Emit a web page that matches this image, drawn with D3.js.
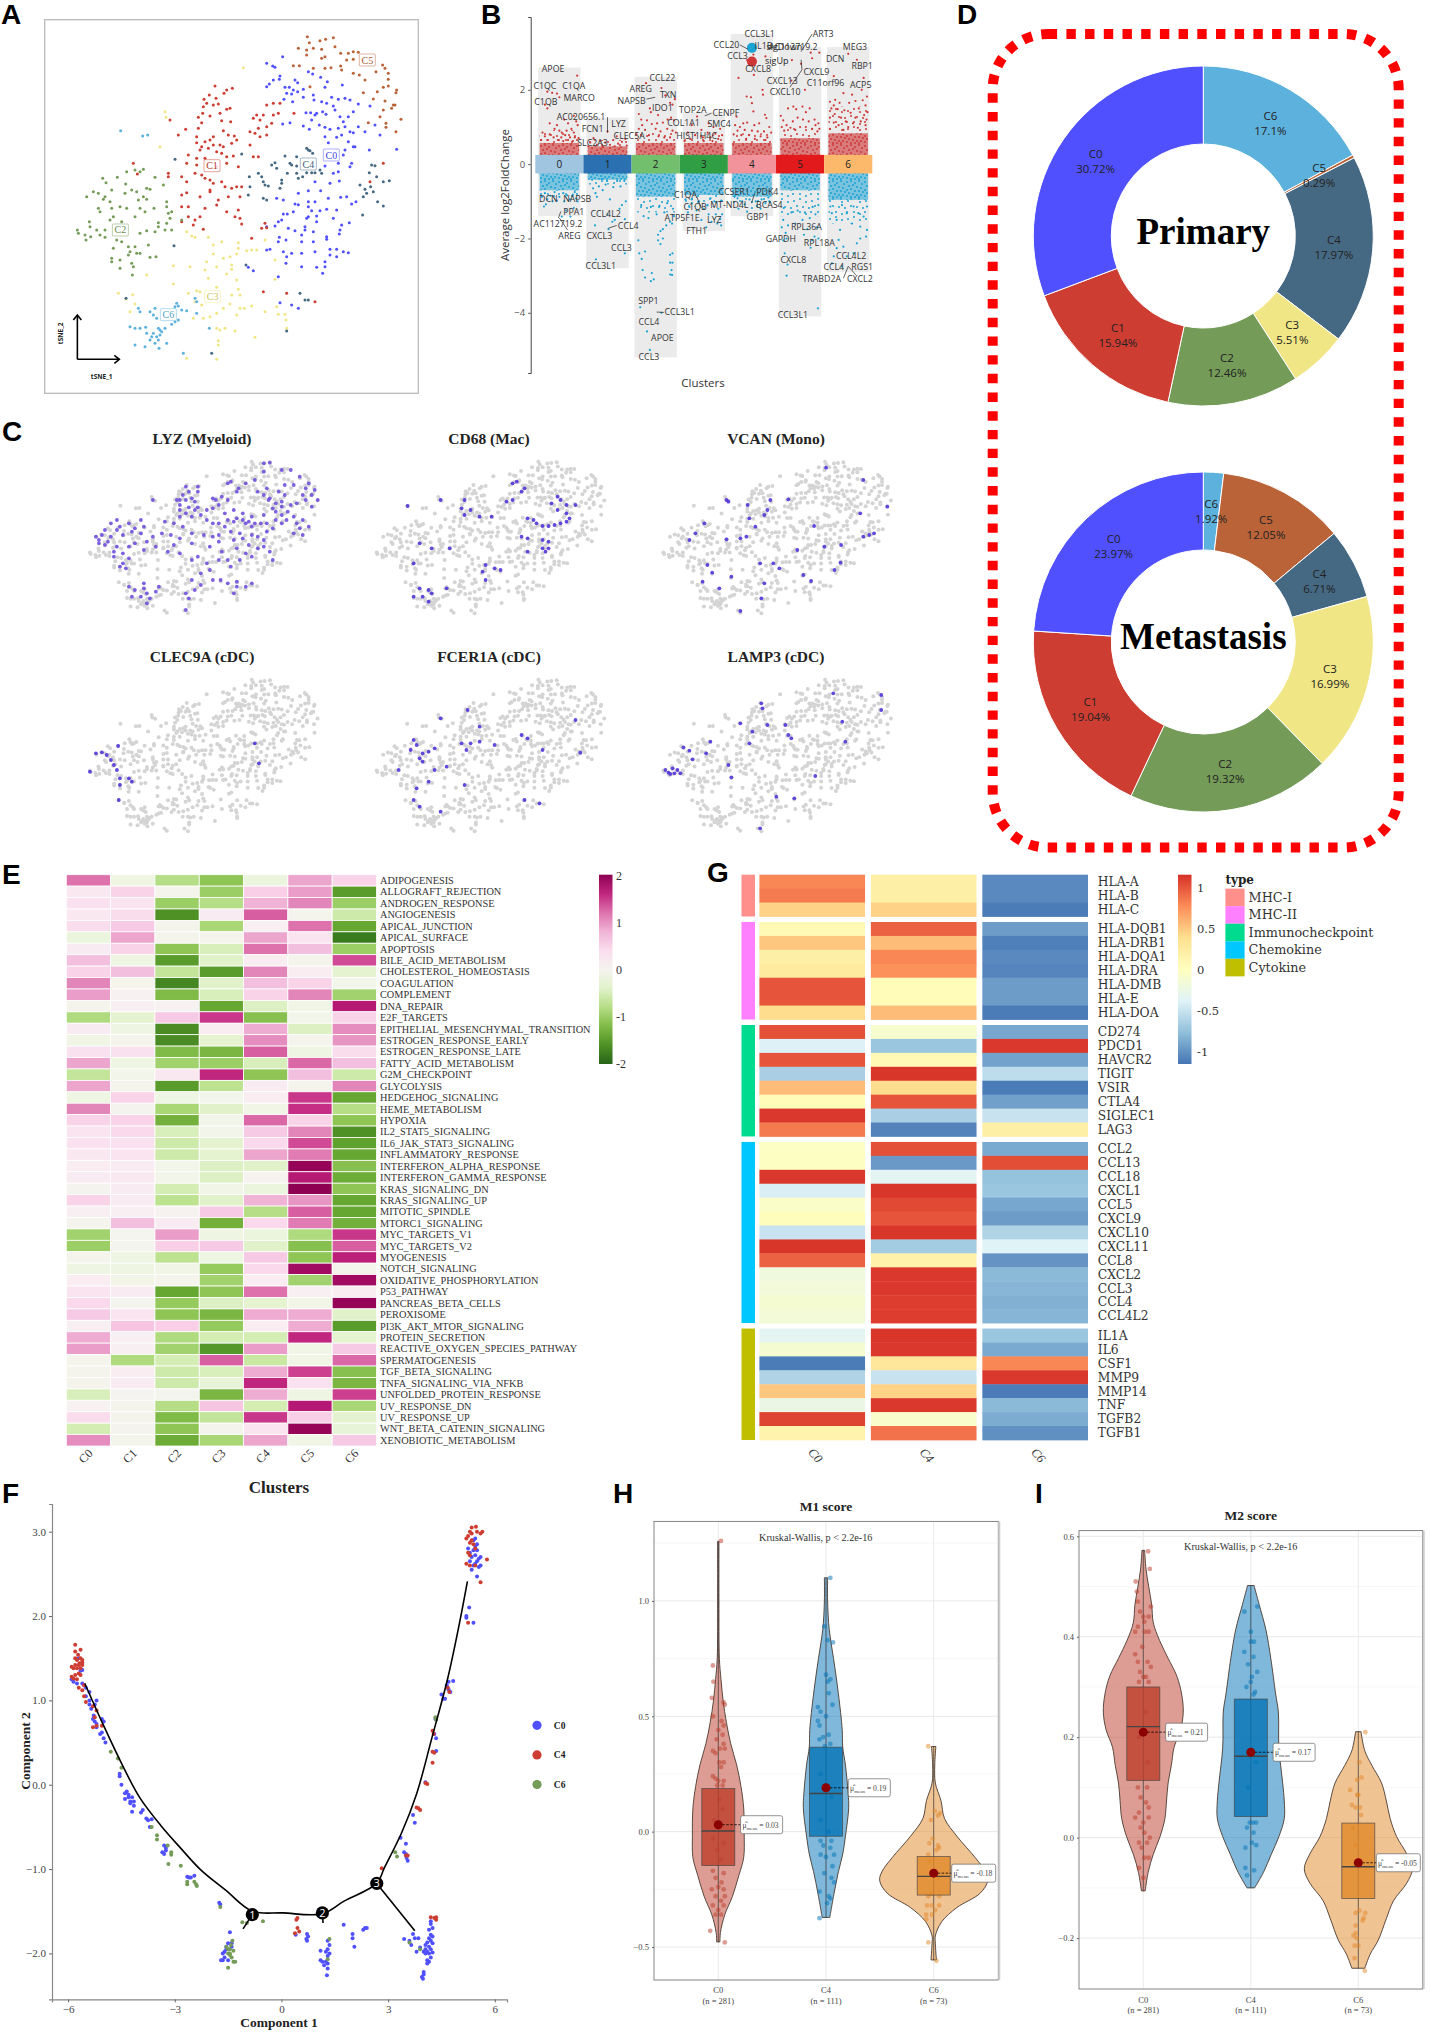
<!DOCTYPE html>
<html>
<head>
<meta charset="utf-8">
<script src="https://cdn.jsdelivr.net/npm/d3@7"></script>
<style>
body{margin:0;background:#fff}
svg{display:block;font-family:"Liberation Serif",serif}
text{fill:#222}
</style>
</head>
<body>
<div id="fig"></div>
<script>
// ---- shared
const clusterNames=["C0","C1","C2","C3","C4","C5","C6"];
const clusterCols=["#5050FF","#CE3D32","#749B58","#F0E685","#466983","#BA6338","#5DB1DD"];

// ---- A / C: tSNE embedding, flat x,y lists per cluster
const tsneC0=[800,190,818,198,825,202,848,170,840,228,838,238,820,240,808,252,800,260,885,240,893,248,855,262,868,262,880,270,893,275,910,268,860,280,875,282,910,292,878,305,852,298,925,215,938,222,962,232,982,245,975,262,1027,255,940,285,942,300,995,292,1015,298,1035,295,1050,300,965,305,980,310,1000,318,1075,312,1110,318,918,338,932,338,950,340,968,335,978,343,1005,330,1020,350,1030,365,1060,335,1045,350,935,360,945,345,848,372,870,368,910,378,928,388,958,375,975,382,990,388,1015,385,1035,380,1050,395,1075,380,1095,395,1125,375,1060,398,1140,405,975,410,1010,412,1025,405,1045,425,985,428,1060,440,1035,450,1065,440,1108,450,1190,448,1030,465,1015,490,1055,490,1050,500,975,498,1015,515,1000,520,990,550,1018,543,945,545,925,572,962,572,895,580,830,595,850,600,885,612,895,614,925,605,945,605,985,595,1022,592,1040,590,1055,612,1068,605,925,620,935,632,960,632,980,628,1010,630,880,635,850,642,862,642,925,650,950,648,835,665,845,660,865,685,885,692,915,680,920,655,950,665,1000,655,1025,675,1048,668,800,680,825,678,905,705,915,690,940,695,980,710,1020,690,1018,702,838,712,858,720,835,725,905,725,940,725,980,718,810,748,800,750,850,755,860,770,875,760,905,760,945,755,990,748,990,765,1010,748,1010,770,1030,755,1045,758,858,790,905,800,950,802,975,785,975,800,968,820,835,830,840,908,875,915,895,925,745,802,760,812];
const tsneC1=[645,258,680,270,697,265,628,285,672,280,612,298,648,295,620,310,640,315,655,312,610,320,680,328,690,325,595,352,608,340,630,348,660,340,692,365,665,362,605,368,595,385,557,388,535,405,590,410,630,420,640,410,670,392,685,405,703,408,710,420,590,428,615,425,605,440,640,435,660,435,670,440,695,430,600,450,625,445,650,455,665,460,565,465,590,475,615,475,700,468,680,470,560,490,590,495,650,500,680,490,715,500,585,520,605,525,545,530,560,545,615,535,630,540,640,550,665,545,505,520,505,530,630,570,545,585,560,578,600,590,630,575,675,560,695,565,710,560,725,560,685,590,720,590,655,600,650,615,565,620,615,625,545,620,680,635,715,630,705,650,720,655,725,672,565,650,600,650,585,660,610,688,580,675,545,665,400,490,412,522,510,360,770,345,760,355,780,360,820,345,835,340,790,345,765,400,775,385,750,395,800,380,815,370,780,410,750,435,760,470,775,470,800,405,800,315,820,310,840,310,882,340,755,715,795,670,785,685,800,683,790,875,860,880,945,905,1150,490,1110,545];
const tsneC2=[260,590,280,575,295,580,308,535,318,548,352,532,380,515,405,510,430,508,420,515,377,552,335,570,315,590,310,598,330,605,375,580,395,570,410,575,440,565,450,568,465,532,490,555,430,590,415,600,440,598,380,625,335,625,295,625,300,635,360,620,420,625,435,635,462,625,500,605,500,620,505,640,515,635,510,655,500,670,545,660,340,650,330,660,405,650,365,665,268,665,270,680,290,690,315,690,232,690,235,700,255,705,258,720,272,710,300,705,315,712,420,700,440,692,465,695,475,680,475,668,495,690,515,690,350,720,365,725,340,745,385,740,405,740,390,755,385,765,410,760,420,760,335,785,360,780,335,775,395,790,400,800,450,772,468,770,445,735,397,825,360,805];
const tsneC3=[730,203,495,335,498,352,480,440,560,695,575,708,585,712,625,712,640,735,665,725,715,728,715,745,740,752,755,750,770,750,795,720,640,762,670,775,690,770,710,762,620,785,650,800,695,795,695,808,615,810,570,800,520,797,680,822,625,835,710,840,520,852,715,868,590,872,600,875,650,862,655,880,720,885,695,885,565,880,640,890,585,905,605,915,690,912,670,925,440,825,355,880,378,897,398,884,405,912,390,935,580,955,610,955,630,950,650,940,710,945,720,925,733,925,755,918,795,935,830,920,835,943,855,943,858,960,860,985,650,985,675,985,660,990,705,993,765,1012,655,1022,655,1035,560,1075,650,1078,825,780,825,838];
const tsneC4=[920,445,925,450,930,452,938,460,855,468,890,470,825,488,815,495,870,490,875,495,890,498,830,505,862,520,890,520,920,518,935,518,945,518,960,510,965,520,908,530,895,535,845,540,775,520,785,530,790,545,795,555,805,558,750,560,845,550,840,565,790,595,800,600,525,478,725,462,738,795,900,880,915,900,925,900,522,737,635,1060,860,993,378,895,1115,495,1125,497,1108,518,1130,530,1150,545,1168,542,1080,555,1112,560,1095,568,1120,575,1100,580,1090,590,1133,605,1150,618,1088,645,748,530,745,585];
const tsneC5=[922,110,928,128,960,122,977,118,1000,113,895,145,920,150,940,145,965,148,1005,140,920,165,1022,160,1045,160,1060,155,1075,157,965,175,975,170,1040,180,1060,178,880,197,898,197,940,205,975,205,993,203,1022,198,1025,210,1148,195,1155,205,1128,215,1165,220,1165,238,1078,225,1095,240,1060,220,930,260,1150,262,1165,258,1190,270,1188,278,1090,278,1120,297,1132,275,1155,303,1180,315,1185,315,1150,330,1175,325,1140,350,1105,368,1158,370,1158,382,1203,358,1188,395];
const tsneC6=[362,392,428,408,443,405,590,905,585,895,530,910,525,920,535,918,545,930,560,932,415,925,420,935,450,935,465,925,460,945,470,955,525,965,535,960,515,973,590,940,390,980,405,985,420,985,437,982,440,1000,475,985,480,990,495,985,485,995,460,1000,455,1010,470,1010,480,1005,450,1020,475,1020,465,1030,500,1030,405,1035,435,1040,477,1045,628,985,550,1060];
const tsneLists=[tsneC0,tsneC1,tsneC2,tsneC3,tsneC4,tsneC5,tsneC6];
const tsneLabelX=[994,636,361,638,925,1102,505];
const tsneLabelY=[465,497,690,890,492,180,944];

// ---- C: feature plots, cells with expression (flat x,y)
const featureTitles=["LYZ (Myeloid)","CD68 (Mac)","VCAN (Mono)","CLEC9A (cDC)","FCER1A (cDC)","LAMP3 (cDC)"];
const exprLYZ=[440,130,450,128,470,150,485,150,500,170,515,190,510,205,525,210,440,155,380,190,385,185,398,205,395,215,360,240,370,230,440,225,450,235,460,250,470,260,485,255,495,250,530,240,520,260,310,200,330,200,305,225,320,235,325,245,300,270,310,280,325,270,335,285,300,290,320,290,295,240,255,240,355,265,380,300,395,295,410,310,420,320,435,310,445,310,460,300,470,285,375,320,385,335,400,340,430,350,440,360,415,375,395,385,370,395,380,420,410,400,430,385,495,310,490,340,505,345,215,310,225,325,195,330,205,345,170,345,160,350,185,350,235,340,175,375,195,380,240,390,260,380,290,375,320,370,280,395,300,400,320,420,350,450,335,460,320,480,190,410,205,430,210,445,240,505,245,520,260,515,235,530,245,550,215,500,315,535,310,570,395,485,420,490,390,520,368,480,448,240,455,265,470,245,405,300,415,305,425,310,390,305,300,255,315,262,330,262,310,240,220,335,200,320,165,360,180,365,330,215,315,215,300,240,345,270,365,255,355,235,380,240,410,190,425,180,430,215,445,205,475,195,490,195,505,225,475,225,465,215,520,225,510,240,480,275,460,275,440,285,420,290,405,280,390,270,375,280,365,310,355,310,345,300,365,345,355,350,390,360,405,355,420,345,445,335,455,325,470,310,478,300,490,290,500,325,515,320,505,300,350,380,365,365,340,345,320,340,305,320,290,310,275,305,270,340,255,350,285,345,300,355,245,365,225,370,215,380,235,300,240,320,195,300,185,310,175,330,165,370,190,395,205,400,215,415,200,440,330,410,345,430,365,420,385,440,400,420,440,380,450,395,420,410,455,420,225,510,240,490,250,535,265,500,220,530,395,500,380,490,410,500,325,510,335,495,310,520,355,480];
const exprCD68=[855,190,862,185,875,205,870,215,855,240,845,245,735,240,680,258,775,240,770,265,785,270,775,285,800,290,820,290,930,230,935,240,920,250,945,255,960,255,930,270,945,280,950,295,880,295,890,300,895,310,905,318,915,318,925,315,935,310,945,305,870,350,880,355,905,360,915,365,905,385,915,385,880,395,910,395,690,430,700,370,720,385,750,385,810,435,825,445,835,450,805,455,810,480,700,505,715,510,720,520,745,505,705,530,715,545,690,530];
const exprVCAN=[1212,240,1215,245,1247,255,1280,270,1315,238,1275,285,1250,295,1260,320,1245,350,1235,355,1175,310,1160,340,1150,360,1212,358,1285,240,1358,318,1330,390,1375,380,1403,375,1450,345,1458,340,1440,350,1480,260,1435,280,1268,430,1290,430,1180,435,1188,458,1220,470,1172,485,1200,505,1275,490,1340,465,1353,483,1392,450,1402,428,1270,535,1235,573,1378,143,1440,180,1300,445];
const exprCLEC9A=[160,1000,170,997,178,1005,197,978,185,1020,190,1035,195,1050,200,1075,215,1075,220,1085,200,1095,150,1055,198,1140,425,970,432,1030];
const exprFCER1A=[690,960,695,975,685,990,705,1000,715,995,725,985,700,1015,705,1025,770,970,778,990,785,970,800,965,825,975,780,870,800,920,735,895,745,1040,725,1050,715,1085,695,1105,775,1095,665,1050,690,1140,700,1160,870,945,880,955,905,990,968,998,875,1140,900,1150,960,900,735,1175];
const exprLAMP3=[1110,1050,1115,1058,1122,1045,1125,1060,1130,1050,1135,1060,1118,1062,1140,982,1150,992,1185,965,1178,1000,1155,1018,1215,1035,1220,1072,1270,850,1272,865,1280,915,1255,935,1250,970,1235,910,1315,945,1320,955,1390,820,1470,825,1470,870,1325,1135,1268,1225,1295,1130,1360,1068,1405,905,1310,915,1410,965];
const exprLists=[exprLYZ,exprCD68,exprVCAN,exprCLEC9A,exprFCER1A,exprLAMP3];

// ---- B: volcano by cluster, flat offset(1/100 cluster), log2FC(1/100)
const volcGrey=[[2.6,-1.4],[1.25,-2.8],[2.35,-5.2],[1.4,-1.8],[3.5,-1.4],[3.15,-4.1],[3.15,-2.9]];
const denseUp=[.57,.48,.57,.57,.57,.7,.83];
const semiUp=[.92,.65,.88,.8,.83,.97,1.55];
const denseDn=[-.7,-.42,-.87,-.83,-.87,-.7,-.96];
const semiDn=[-.9,-.55,-1.3,-1.14,-1.05,-1.4,-1.6];
const stripCols=["#9FC5E0","#2B70B0","#72C06E","#2F9E44","#F2929A","#E31A1C","#FDB96B"];
const volcUp=[
[-25,195,-15,192,-5,190,0,180,37,238,-30,160,-25,150,30,130,35,115,38,105,10,120,18,110,-20,110,-5,105,-10,95,0,90,5,85,15,90,25,95,30,85,-35,85,-30,75,-20,80,-12,72,4,72,12,78,22,72,32,72,40,70,-38,65,-25,65,-3,65,8,62,18,65,28,62],
[0,88,19,75,-29,70,37,68,12,65,-15,62,30,60,-36,58,-5,58,22,55,5,52,-22,52,40,50,-40,48,15,48,-10,46],
[-20,218,12,205,20,185,40,175,35,160,30,165,-35,135,-12,150,-10,140,5,132,-30,120,-18,118,25,120,32,125,38,118,-28,105,-8,108,3,110,15,112,-35,95,-22,92,0,95,10,88,24,95,35,90,42,85,-40,80,-14,78,6,75,18,72,30,72],
[-14,128,10,110,-25,105,20,100,34,95,-5,92,-33,85,8,85,24,82,38,78,-18,78,-2,72,14,72,-28,68,30,68,-40,62,0,62,18,62],
[-28,232,4,240,-11,182,-2,180,22,200,23,187,0,164,3,142,27,133,30,124,-32,128,-18,110,-35,105,-25,100,-10,112,5,105,15,110,36,100,-30,90,-15,92,0,90,12,88,25,88,40,85,-38,80,-22,78,-6,78,18,75,32,72,-12,68,6,68,28,65,3,295,-10,280,28,290],
[-40,130,-35,118,-25,150,-14,155,-8,148,5,155,12,140,20,150,30,120,38,110,-38,100,-28,105,-15,115,-5,125,6,120,18,115,32,105,40,95,-20,98,0,100,12,100,25,95,-33,90,-10,92,36,88,2,270,10,200,-18,225,25,285,40,300,22,300,-17,280],
[0,297,18,281,32,232,-30,237,-10,191,8,187,28,200,39,182,-27,173,-38,168,-18,165,-30,158,2,165,15,170,30,172,36,158,-35,150,-22,148,-8,145,22,150,40,140,-28,135,5,138,33,132,-38,125,-15,125,15,125,38,120,-5,115,26,115,-30,112,10,110,-20,105,36,105,0,100,20,98,-38,95,-10,92]];
const volcDn=[
[-32,-114,-28,-108,5,-141,23,-141,30,-118,14,-125,-14,-100,-25,-95,-5,-98,10,-100,22,-95,35,-92,38,-100,-36,-88,-18,-85,0,-88,16,-84,28,-82,-30,-78,-10,-75,8,-78,32,-75],
[-30,-65,-25,-78,-18,-60,-10,-70,-4,-55,-1,-45,5,-95,0,-135,20,-45,27,-60,35,-45,38,-100,30,-110,25,-120,15,-150,10,-155,-22,-88,-32,-42,-12,-40,12,-62,36,-148,36,-240,-24,-256,-26,-165,2,-175],
[-36,-205,-34,-240,-29,-255,-22,-235,-27,-285,-22,-305,-10,-315,-8,-293,-4,-310,30,-244,35,-240,30,-265,35,-265,33,-285,30,-297,34,-298,5,-190,10,-180,15,-175,5,-205,10,-215,15,-200,22,-165,30,-155,34,-160,-25,-140,-15,-145,2,-135,18,-130,38,-140,36,-120,-30,-110,-10,-115,8,-112,24,-105,-32,-385,12,-400,-18,-450,-12,-500],
[-38,-95,-25,-105,-10,-100,8,-110,22,-100,36,-98,-30,-115,0,-120,30,-120,-15,-125,10,-135,25,-135,38,-135,34,-148,-33,-130,-5,-150,16,-155,28,-160,36,-165,5,-170,-25,-95,14,-92],
[-30,-92,-20,-100,-5,-95,8,-100,20,-95,34,-90,-36,-88,-15,-108,28,-105,10,-112,-28,-120,0,-118,18,-120,-10,-128,36,-100],
[-35,-150,-38,-170,-30,-185,-25,-165,-10,-160,5,-150,20,-145,32,-135,-18,-130,-5,-125,10,-130,26,-115,38,-110,-34,-118,-28,-200,15,-175,35,-170,30,-195,38,-200,25,-205,-35,-205,-32,-240,-28,-300,37,-388,-26,-270,22,-225,8,-190],
[39,-177,-20,-204,25,-200,37,-195,18,-213,-10,-222,-30,-248,-34,-267,-3,-248,-13,-275,11,-240,-24,-226,25,-168,-17,-177,8,-160,-24,-150,32,-141,-34,-132,-3,-132,21,-132,39,-114,-37,-114,11,-114,-13,-110]];
// texture tiles for the over-plotted bands (18x18 px tile)
const speckleDense=[1,2,5,1,9,3,13,1,16,4,3,6,7,5,11,7,15,8,1,10,5,9,9,11,13,11,17,12,3,13,7,14,11,15,15,15,1,16,5,17,9,17,13,17];
const speckleSparse=[2,3,8,1,14,4,5,8,11,9,17,10,1,14,8,14,14,16];
const geneNames=["APOE","C1QC","C1QA","C1QB","MARCO","AC020656.1","FCN1","LYZ","CLEC5A","SLC2A3","CCL22","AREG","TXN","NAPSB","IDO1","TOP2A","CENPF","COL1A1","SMC4","HIST1H4C","CCL3L1","CCL20","IL1B","AC112719.2","CCL3","CXCL8","ART3","CXCL9","CXCL13","C11orf96","CXCL10","MEG3","DCN","RBP1","ACP5","DCN","NAPSB","PPA1","AC112719.2","AREG","CCL4L2","CCL4","CXCL3","CCL3","CCL3L1","SPP1","CCL3L1","CCL4","APOE","CCL3","C1QA","C1QB","MT-ND4L","ATP5F1E","LYZ","FTH1","CCSER1","PDK4","BCAS4","GBP1","RPL36A","GAPDH","RPL18A","CXCL8","CCL3L1","CCL4L2","CCL4","RGS1","TRABD2A","CXCL2"];
const geneX=[-.13,-.3,.3,-.28,.41,.45,.69,1.23,1.45,.69,2.14,1.69,2.26,1.5,2.14,2.77,3.46,2.58,3.32,2.85,4.16,3.47,4.24,4.86,3.7,4.13,5.48,5.34,4.63,5.53,4.69,6.14,5.73,6.29,6.26,-.23,.37,.3,-.03,.21,.96,1.43,.83,1.29,.86,1.85,2.5,1.86,2.14,1.86,2.62,2.82,3.53,2.55,3.22,2.85,3.63,4.32,4.36,4.12,5.13,4.6,5.4,4.86,4.85,6.06,5.7,6.29,5.45,6.24];
const geneY=[2.56,2.1,2.11,1.68,1.78,1.26,.95,1.07,.76,.56,2.33,2.02,1.85,1.69,1.5,1.46,1.39,1.11,1.08,.76,3.5,3.21,3.18,3.16,2.9,2.56,3.5,2.49,2.25,2.18,1.94,3.15,2.82,2.65,2.13,-.93,-.95,-1.28,-1.6,-1.92,-1.33,-1.66,-1.92,-2.25,-2.75,-3.67,-3.99,-4.24,-4.68,-5.18,-.83,-1.14,-1.09,-1.46,-1.5,-1.81,-.76,-.75,-1.09,-1.41,-1.7,-2.02,-2.11,-2.57,-4.06,-2.46,-2.78,-2.77,-3.09,-3.09];
const geneLeaders=[[1,1.26,1,.85],[1.81,1.75,1.99,1.8],[3.02,1.3,3.16,1.37],[5.25,3.5,5.02,3.03],[5.02,2.81,5.04,2.54],[5.04,2.54,4.79,2.07],[3.75,3.21,3.92,3.09],[1.02,-1.72,1.19,-1.65],[.03,-1.27,-.02,-1.45],[0,-1.45,.17,-1.77],[2.02,-3.98,2.17,-3.99],[2.85,-.87,2.95,-1.18],[4.06,-.78,3.99,-1.05],[5.9,-3.07,6,-2.75],[6,-2.75,6.16,-2.98]];

// ---- D: donuts, clockwise from 12 o'clock
const donutOrder=["C6","C5","C4","C3","C2","C1","C0"];
const primaryPct=[17.1,.29,17.97,5.51,12.46,15.94,30.72];
const metastasisPct=[1.92,12.05,6.71,16.99,19.32,19.04,23.97];

// ---- E: hallmark heatmap
const hallmarks=["ADIPOGENESIS","ALLOGRAFT_REJECTION","ANDROGEN_RESPONSE","ANGIOGENESIS","APICAL_JUNCTION","APICAL_SURFACE","APOPTOSIS","BILE_ACID_METABOLISM","CHOLESTEROL_HOMEOSTASIS","COAGULATION","COMPLEMENT","DNA_REPAIR","E2F_TARGETS","EPITHELIAL_MESENCHYMAL_TRANSITION","ESTROGEN_RESPONSE_EARLY","ESTROGEN_RESPONSE_LATE","FATTY_ACID_METABOLISM","G2M_CHECKPOINT","GLYCOLYSIS","HEDGEHOG_SIGNALING","HEME_METABOLISM","HYPOXIA","IL2_STAT5_SIGNALING","IL6_JAK_STAT3_SIGNALING","INFLAMMATORY_RESPONSE","INTERFERON_ALPHA_RESPONSE","INTERFERON_GAMMA_RESPONSE","KRAS_SIGNALING_DN","KRAS_SIGNALING_UP","MITOTIC_SPINDLE","MTORC1_SIGNALING","MYC_TARGETS_V1","MYC_TARGETS_V2","MYOGENESIS","NOTCH_SIGNALING","OXIDATIVE_PHOSPHORYLATION","P53_PATHWAY","PANCREAS_BETA_CELLS","PEROXISOME","PI3K_AKT_MTOR_SIGNALING","PROTEIN_SECRETION","REACTIVE_OXYGEN_SPECIES_PATHWAY","SPERMATOGENESIS","TGF_BETA_SIGNALING","TNFA_SIGNALING_VIA_NFKB","UNFOLDED_PROTEIN_RESPONSE","UV_RESPONSE_DN","UV_RESPONSE_UP","WNT_BETA_CATENIN_SIGNALING","XENOBIOTIC_METABOLISM"];
const hallmarkVals=[
[1.2,-.2,-.8,-1.1,-.25,.9,.5],[.25,.5,-.05,-1,.55,.95,-1.5],[.35,.3,-1,-.8,.8,1.1,-1],[.25,.4,-1.6,.2,1.3,-.05,-.6],[.4,.6,-.05,-.9,.1,1.2,-1.4],
[-.25,.9,-.05,-.05,.9,.3,-1.8],[.2,.5,-1.1,-.5,1.2,.7,-1],[.7,-.2,-1.5,-.4,.15,-.05,1.4],[.5,.7,-.7,-1.5,1.1,.15,-.35],[1.1,-.05,-1.7,-.4,.7,.5,-.1],
[.95,.05,-1.2,-.5,.5,1.1,-.95],[-.05,.1,.05,-1.4,-.45,-.15,1.7],[-.85,-.35,.6,1.5,-1.15,-.1,.5],[.2,-.2,-1.65,.15,.85,-.45,1.05],[-.15,-.05,-1.65,-.35,1.05,-.05,1],
[.35,.35,-1.2,-1.25,1.3,-.2,.4],[.9,-.2,-.95,-1,-.5,1.25,.7],[-.7,-.1,.25,1.6,-1.1,.7,-.6],[.9,-.05,-1.5,-.75,.2,-.05,1.1],[-.2,.5,-.2,-.1,.15,1.5,-1.4],
[1.1,-.02,-.9,-.4,-.15,1.55,-.8],[.5,.5,-1.3,-.1,1.25,.5,-1.1],[.3,.45,-.5,-.1,.6,1.1,-1.6],[.35,.35,-.6,-.35,.45,1.4,-1.45],[.25,.3,-.6,-.35,.9,1.15,-1.4],
[.15,.2,-.1,-.45,-.4,1.95,-1.15],[.2,.25,-.1,-.45,.02,1.7,-1.35],[-.02,.2,-.55,-.12,-.25,2,-1.1],[.5,.2,-.75,-.4,.8,1,-1.4],[.1,.1,.02,.6,-.8,1.3,-1.4],
[-.05,.7,.2,-1.3,.45,1.15,-1.3],[-.95,-.03,.95,-.2,-.25,-.85,1.5],[-1,-.03,.55,.6,-.4,-1.15,1.3],[-.05,-.2,-.75,-.2,.6,-1.1,1.65],[-.2,-.2,-.15,-1.05,.45,1.85,-.05],
[.15,-.15,-.05,-.95,.15,-.95,1.85],[.3,.2,-1.4,-1.1,1.2,.1,.15],[.45,-.03,-1.05,-.45,-.35,-.15,1.95],[.6,.3,-1.1,-1.25,.85,.85,-.4],[.12,.65,.55,-1.05,.15,.85,-1.5],
[.85,.1,-.85,-.55,-.55,1.6,-.35],[.95,.1,-.95,-1.55,.95,-.15,.6],[-.05,-.85,-.55,1.3,-.65,-.15,1.25],[-.05,.15,-.6,-.5,.85,1.45,-1.15],[-.05,.2,-.6,-.3,1.6,.35,-1.25],
[-.5,0,-.03,-1.25,.85,-.2,1.45],[.05,-.05,-.8,.65,-.55,1.7,-.9],[.4,-.05,-1.2,-.7,1.5,.55,-.35],[-.55,-.02,-1.1,-.05,.3,1.95,-.3],[1.05,-.08,-1.35,-.9,.9,-.15,.6]];

// ---- G: immune gene heatmap
const geneTypes=["MHC-I","MHC-II","Immunocheckpoint","Chemokine","Cytokine"];
const typeCols=["#FF8F8A","#FF80FF","#00DB8F","#00C8FF","#BFBF00"];
const typeGenes=[["HLA-A","HLA-B","HLA-C"],["HLA-DQB1","HLA-DRB1","HLA-DQA1","HLA-DRA","HLA-DMB","HLA-E","HLA-DOA"],["CD274","PDCD1","HAVCR2","TIGIT","VSIR","CTLA4","SIGLEC1","LAG3"],["CCL2","CCL13","CCL18","CXCL1","CCL5","CXCL9","CXCL10","CXCL11","CCL8","CXCL2","CCL3","CCL4","CCL4L2"],["IL1A","IL6","CSF1","MMP9","MMP14","TNF","TGFB2","TGFB1"]];
const immuneC0=[.8,.85,.45,.07,.5,.2,.25,1,1,.4,1.02,-.4,1,-.65,.55,.05,1.12,.85,-.03,-.02,1.12,-.42,-.06,.03,-.5,1.13,.95,-.2,-.18,-.12,-.16,-.35,-.12,-1.12,-.62,.5,-.25,1.08,.15];
const immuneC4=[.2,.2,.45,.95,.55,.8,.75,.05,.05,.55,-.1,-.72,.08,1.13,.4,1,-.65,-1.08,1.02,-.97,-.35,1.13,1.05,1,1.13,-.68,.18,1.12,1.12,1.1,1.1,1.13,1.12,.3,-.5,.45,1.12,-.08,.88];
const immuneC6=[-1.05,-1.05,-1.12,-.95,-1.1,-1.05,-1.07,-.95,-.95,-1.12,-.9,1.12,-.92,-.55,-1.12,-.93,-.5,.2,-.88,1.03,-.75,-.72,-.9,-.95,-.62,-.38,-1,-.8,-.82,-.85,-.82,-.72,-.88,.8,1.12,-1.12,-.8,-.87,-1.02];
const rdylbu=["#4575B4","#91BFDB","#E0F3F8","#FFFFBF","#FEE090","#FC8D59","#D73027"];

// ---- F: pseudotime, flat x,y per cluster
const trajC0=[5.35,2.55,5.4,2.6,5.45,2.62,5.3,2.65,5.5,2.65,5.55,2.68,5.6,2.7,5.35,2.7,5.45,2.72,5.3,2.75,5.4,2.78,5.5,2.78,5.25,2.8,5.45,2.82,5.5,2.85,5.4,2.9,5.45,2.92,5.55,2.58,5.5,2.47,5.6,2.6,5.2,1.98,5.2,2,5.28,2.1,5.4,1.92,4.83,1.23,4.7,1.22,4.65,1.18,4.7,1.13,4.75,1.1,4.5,1.07,4.6,1.02,4.55,1.02,4.33,.78,4.3,.6,4.35,.55,4.35,.4,4.05,.03,3.7,-.36,3.75,-.45,3.35,-.63,3.5,-.7,3.45,-.8,3.5,-.82,3.52,-.87,3.55,-.9,4.2,-1.62,4.2,-1.65,4.25,-1.7,4.15,-1.72,4.2,-1.78,4.25,-1.8,4.15,-1.82,4.2,-1.85,4.1,-1.87,4.25,-1.88,4.05,-1.9,4.15,-1.92,4.2,-1.95,4.05,-1.95,4.1,-1.98,4.25,-1.99,4.15,-2,4.05,-2,4.2,-2.05,4.1,-2.08,4.15,-2.1,4.1,-2.12,4,-2.25,3.95,-2.28,4,-2.22,3.98,-2.3,3.9,-1.93,3.85,-1.82,3.7,-1.77,3.6,-1.85,3.45,-1.83,3.75,-1.82,3.65,-1.9,3.8,-1.98,4,-1.98,1.75,-1.66,2,-1.77,2,-1.82,2.05,-1.92,2.3,-1.72,2.35,-1.7,2.4,-1.7,.72,-1.77,.75,-1.8,.72,-1.85,.7,-1.83,1.3,-1.85,1.35,-1.9,1.3,-1.95,1.25,-1.98,1.35,-2,1.3,-2.03,1.1,-1.97,1.1,-2.08,1.15,-2.1,1.25,-2.1,1.3,-2.12,1.2,-2.14,1.3,-2.18,1.28,-2.26,.4,-1.78,-1.45,-1.75,-1.5,-1.88,-1.4,-1.88,-1.55,-1.92,-1.6,-1.98,-1.65,-2,-1.6,-2.05,-1.4,-1.92,-1.65,-2.08,-1.7,-2.08,-1.5,-2.08,-1.55,-1.95,-1.75,-1.4,-1.72,-1.42,-2.65,-1.09,-2.55,-1.1,-2.6,-1.1,-2.45,-1.08,-3.3,-.72,-3.25,-.75,-3.25,-.78,-3.35,-.8,-3.3,-.82,-3.7,-.5,-3.8,-.4,-3.75,-.42,-3.65,-.41,-3.9,-.3,-3.95,-.33,-4.15,-.25,-4.2,-.32,-4.15,-.2,-4.25,-.22,-4.2,-.15,-4.3,-.15,-4.4,-.17,-4.3,-.12,-4.4,-.1,-4.35,-.08,-4.5,0,-4.55,.1,-4.55,.13,-4.25,-.2,-4.95,.5,-5,.55,-5.1,.6,-5.05,.62,-5.2,.68,-5.2,.72,-5,.75,-5.05,.78,-5.25,.75,-5.3,.78,-5.28,.82,-5.35,.9,-5.25,.95,-5.4,.95,-5.4,1,-5.2,1,-5.5,1.05,-5.4,1.1,-5.5,1.15,-5.65,1.35,-5.6,1.36,-5.9,1.25,-5.85,1.22,-5.75,1.2,-5.7,1.5,-5.6,1.2,-5.55,1.18];
const trajC4=[5.25,2.95,5.2,2.92,5.3,3,5.35,2.98,5.35,3.05,5.47,3.06,5.5,3,5.6,2.98,5.65,3,5.3,2.87,5.4,2.85,5.25,2.75,5.3,2.72,5.2,2.62,5.3,2.6,5.45,2.6,5.78,2.67,5.6,2.4,5.35,2.9,5.45,2.8,5.25,1.92,4.68,1.15,4.72,1.1,4.25,.64,4.28,.6,4.25,.39,4.3,.38,4.25,.26,4.05,.02,4.1,.01,3.8,-.27,3.9,-.3,3.85,-.28,3.5,-.84,3.55,-.84,2.82,-.99,4.2,-1.57,4.3,-1.58,4.35,-1.57,4.35,-1.6,.42,-1.6,.45,-1.58,.45,-1.7,.5,-1.74,.38,-1.76,-5.2,.7,-5.3,.68,-5.05,.7,-5.25,.8,-5.2,.88,-5.3,.93,-5.5,.98,-5.55,1.05,-5.6,1.12,-5.55,1.18,-5.8,1.66,-5.8,1.58,-5.65,1.6,-5.8,1.5,-5.75,1.48,-5.65,1.5,-5.6,1.48,-5.8,1.42,-5.7,1.42,-5.6,1.42,-5.9,1.4,-5.85,1.38,-5.75,1.38,-5.65,1.38,-5.7,1.32,-5.8,1.3,-5.9,1.28,-5.85,1.26,-5.65,1.3,-5.75,1.25,-5.7,1.15,-5.6,1.45,-5.72,1.54,-5.68,1.44];
const trajC6=[4.33,.8,4.35,.77,3.2,-.8,3.25,-.85,3.6,-1.87,3.9,-1.95,1.35,-1.83,1.3,-2.07,-1.1,-1.63,-.97,-1.64,-.52,-1.62,-1.38,-1.85,-1.42,-1.9,-1.55,-1.92,-1.5,-1.95,-1.45,-1.95,-1.35,-1.97,-1.5,-2,-1.45,-2.02,-1.4,-2.05,-1.35,-2.1,-1.5,-2.17,-1.3,-2.1,-1.45,-2,-1.72,-1.45,-2.65,-1.18,-2.65,-1.15,-2.45,-1.15,-2.4,-1.18,-2.38,-1.2,-2.83,-.96,-3.2,-.72,-3.1,-.8,-3.18,-.94,-3.1,-.83,-3.5,-.6,-3.5,-.65,-3.65,-.5,-4.5,.2,-4.6,.31,-4.8,.39];
const trajLegend=["C0","C4","C6"];
const trajCols=["#5050FF","#CE3D32","#749B58"];
const backbone=[-5.53,1.2,-5,.7,-4.47,.23,-3.99,-.15,-3.4,-.48,-2.86,-.74,-2.27,-1.01,-1.57,-1.25,-.82,-1.5,.04,-1.52,1.15,-1.53,1.76,-1.38,2.68,-1.17,2.89,-.99,3.38,-.57,3.8,-.11,4.24,.57,4.67,1.25,4.99,1.88,5.23,2.41];
const branch1=[-.82,-1.54,-1.08,-1.71];
const branch2=[1.15,-1.52,1.17,-1.64];
const branch3=[2.68,-1.17,3.75,-1.73];
const branchNodes=[-.82,-1.54,1.15,-1.52,2.68,-1.17];

// ---- H / I: violins, flat value,density
const scoreGroups=["C0","C4","C6"];
const scoreN=[281,111,73];
const scoreCols=["#BC3C29","#0072B5","#E18727"];
const m1Violin=[
[1.258,.012,1,.012,.75,.02,.66,.05,.566,.09,.474,.15,.381,.23,.289,.34,.196,.42,.103,.47,-.02,.48,-.113,.47,-.19,.38,-.282,.26,-.36,.12,-.437,.04,-.478,.03],
[1.1,.03,1,.03,.875,.06,.75,.14,.597,.23,.443,.3,.366,.31,.289,.36,.165,.41,.103,.42,-.02,.36,-.097,.31,-.174,.23,-.267,.15,-.372,.07],
[.369,.04,.289,.02,.211,.03,.134,.135,.057,.2,-.02,.43,-.113,.77,-.174,.96,-.213,1,-.267,.86,-.329,.43,-.39,.15,-.452,.03,-.483,.03,-.556,.05]];
const m1Box=[[-.147,.003,.187],[-.02,.165,.366],[-.275,-.194,-.108]];
const m1Mean=[.03,.19,-.18];
const m1Jitter=[
[.05,1.26,-.1,.72,-.09,.65,-.12,.58,.1,.56,.12,.55,-.1,.5,.1,.46,.06,.48,0,.44,-.03,.4,.08,.42,.1,.38,.12,.36,-.1,.35,-.05,.34,.03,.36,.1,.3,.02,.3,.05,.28,-.1,.24,-.05,.23,0,.22,.1,.22,-.02,.2,.08,.2,.02,.14,.08,.1,-.08,.05,.03,.02,-.1,-.03,.1,-.05,-.02,-.08,.05,-.12,-.1,-.17,.1,-.18,-.05,-.2,.06,-.22,0,-.24,-.12,-.25,.1,-.25,-.05,-.28,.05,-.3,.12,-.28,-.1,-.32,0,-.34,.1,-.32,-.05,-.36,.05,-.36,-.15,-.43,.12,-.48],
[.08,1.1,-.03,.89,.13,.82,.03,.83,0,.68,.03,.65,.08,.66,.05,.6,-.15,.54,-.1,.52,.12,.55,-.15,.48,-.12,.46,0,.5,.05,.42,-.12,.4,-.05,.41,-.02,.37,.08,.38,-.1,.25,.1,.15,-.1,.05,.05,0,-.1,-.04,.1,-.04,-.05,-.06,.08,-.07,.15,-.1,0,-.11,-.1,-.1,.12,-.15,-.03,-.18,.1,-.2,.15,-.22,-.12,-.26,.05,-.28,.08,-.29,.02,-.31,-.12,-.375],
[-.1,.37,.02,.09,.12,.08,.08,.07,-.05,.05,-.08,-.05,.08,-.06,.1,-.07,.05,-.08,-.02,-.03,-.1,-.1,-.08,-.13,.08,-.2,-.05,-.27,-.12,-.32,.1,-.32,-.03,-.32,.03,-.34,-.14,-.36,-.14,-.38,-.03,-.36,-.1,-.48,.05,-.56,.1,-.28,-.1,-.28]];
const m2Violin=[
[.572,.025,.535,.05,.5,.1,.464,.155,.428,.185,.393,.3,.357,.46,.322,.62,.286,.71,.25,.74,.215,.69,.18,.57,.144,.52,.109,.46,.073,.43,.038,.4,.002,.31,-.033,.185,-.069,.09,-.106,.035],
[.502,.06,.464,.155,.414,.28,.357,.37,.286,.46,.25,.51,.18,.52,.109,.59,.073,.62,.038,.62,.002,.52,-.033,.38,-.069,.235,-.1,.07],
[.211,.05,.173,.12,.144,.25,.109,.43,.073,.52,.038,.59,.002,.71,-.033,.9,-.062,1,-.09,.9,-.126,.65,-.161,.52,-.204,.37,-.232,.22,-.26,.12]];
const m2Box=[[.114,.221,.3],[.042,.162,.276],[-.121,-.058,.029]];
const m2Mean=[.21,.17,-.05];
const m2Jitter=[
[.09,.57,.12,.535,-.14,.51,-.12,.49,-.1,.47,.14,.46,-.06,.45,0,.44,.1,.44,.02,.43,.1,.41,-.15,.41,-.1,.42,.03,.41,-.02,.38,-.15,.365,-.1,.35,.08,.35,.14,.34,-.06,.33,.05,.32,-.08,.31,0,.32,.1,.31,.05,.25,-.08,.2,.08,.15,-.1,.1,.07,.1,-.05,.08,.05,.07,.1,.06,-.08,.05,-.15,.04,.1,.04,0,.03,-.05,.02,.02,.01,.12,0,-.08,-.01,-.03,-.02,.07,-.01,.02,-.04,-.08,-.06,.1,-.04,0,-.08],
[.12,.46,-.12,.45,0,.41,-.12,.37,0,.39,.06,.39,.05,.36,-.05,.345,.02,.32,.12,.33,.08,.29,0,.31,-.08,.3,.05,.285,-.05,.1,.1,.15,-.07,.02,.04,.03,.1,.03,-.02,.03,.05,.01,-.1,-.02,.02,-.01,.1,-.015,-.1,-.06,.06,-.065,-.07,-.075],
[.13,.21,.02,.15,-.02,.115,.06,.12,-.15,.095,-.02,.085,0,.085,-.12,.065,-.05,.06,.03,.06,-.1,.02,.05,.045,-.05,-.015,.02,-.145,-.05,-.15,.13,-.15,.1,-.16,-.05,-.175,.08,-.165,-.03,-.2,-.09,-.195,-.05,-.19,-.07,-.215,0,-.215,-.07,-.24,.12,-.265]];

// ---- drawing
const svg=d3.select("#fig").append("svg").attr("width",1431).attr("height",2039);
const defs=svg.append("defs");
const flatPairs=a=>d3.range(0,a.length,2).map(i=>[a[i],a[i+1]]);
const sans='"Open Sans",sans-serif';

// panel letters
const letters=[["A",1,24],["B",481,24],["C",2,441],["D",957,24],["E",2,884],["F",2,1503],["G",707,882],["H",613,1503],["I",1035,1503]];
svg.selectAll("text.letter").data(letters).enter().append("text").attr("class","letter")
  .attr("x",d=>d[1]).attr("y",d=>d[2]).text(d=>d[0])
  .style("font-family",'"Liberation Sans",sans-serif').style("font-weight","bold").style("font-size","28px").style("fill","#000");

function drawA(){
  const g=svg.append("g");
  const x=d3.scaleLinear().domain([134,1255]).range([44.7,418.3]);
  const y=d3.scaleLinear().domain([59,1180]).range([19.7,393.3]);
  g.append("rect").attr("x",x(134)).attr("y",y(59)).attr("width",x(1255)-x(134)).attr("height",y(1180)-y(59))
    .attr("fill","none").attr("stroke","#bbb").attr("stroke-width",1.3);
  tsneLists.forEach((l,i)=>{
    g.selectAll(null).data(flatPairs(l)).enter().append("circle")
      .attr("cx",d=>x(d[0])).attr("cy",d=>y(d[1])).attr("r",1.5).attr("fill",clusterCols[i]);
  });
  clusterNames.forEach((n,i)=>{
    const cx=x(tsneLabelX[i]),cy=y(tsneLabelY[i]);
    g.append("rect").attr("x",cx-8).attr("y",cy-6).attr("width",16).attr("height",12).attr("rx",1)
      .attr("fill","#fff").attr("fill-opacity",.85).attr("stroke",clusterCols[i]).attr("stroke-opacity",.6).attr("stroke-width",.8);
    g.append("text").attr("x",cx).attr("y",cy+3.5).attr("text-anchor","middle").style("font-size","10px").style("fill",i==3?"#cfc45c":d3.color(clusterCols[i]).darker(.3)).text(n);
  });
  // tSNE arrows
  const arrow=[[232,1078,232,945],[232,1078,358,1078]];
  arrow.forEach(a=>{
    g.append("line").attr("x1",x(a[0])).attr("y1",y(a[1])).attr("x2",x(a[2])).attr("y2",y(a[3])).attr("stroke","#000").attr("stroke-width",1.6);
  });
  g.append("path").attr("d",`M${x(232)-4},${y(945)+5}L${x(232)},${y(945)}L${x(232)+4},${y(945)+5}`).attr("fill","none").attr("stroke","#000").attr("stroke-width",1.6);
  g.append("path").attr("d",`M${x(358)-5},${y(1078)-4}L${x(358)},${y(1078)}L${x(358)-5},${y(1078)+4}`).attr("fill","none").attr("stroke","#000").attr("stroke-width",1.6);
  g.append("text").attr("x",x(305)).attr("y",y(1138)).attr("text-anchor","middle").style("font-family",sans).style("font-weight","bold").style("font-size","6.5px").text("tSNE_1");
  g.append("text").attr("transform",`translate(${x(190)},${y(1000)}) rotate(-90)`).attr("text-anchor","middle").style("font-family",sans).style("font-weight","bold").style("font-size","6.5px").text("tSNE_2");
}

function speckle(id,pts,col){
  const p=defs.append("pattern").attr("id",id).attr("patternUnits","userSpaceOnUse").attr("width",18).attr("height",18);
  flatPairs(pts).forEach(d=>p.append("circle").attr("cx",d[0]).attr("cy",d[1]).attr("r",1).attr("fill",col));
}

function drawB(){
  const g=svg.append("g").style("font-family",sans);
  const x=d3.scaleLinear().domain([-.5,6.5]).range([535.3,872.3]);
  const y=d3.scaleLinear().domain([-5.62,3.96]).range([373,17]);
  const hw=.44;
  volcGrey.forEach((b,i)=>{
    g.append("rect").attr("x",x(i-hw)).attr("width",2*(x(hw)-x(0))).attr("y",y(b[0])).attr("height",y(b[1])-y(b[0])).attr("fill","#ebebeb");
  });
  const up="#CF3737",dn="#1BA3D3";
  speckle("upD",speckleDense,up);speckle("upS",speckleSparse,up);speckle("dnD",speckleDense,dn);speckle("dnS",speckleSparse,dn);
  d3.range(7).forEach(i=>{
    const w=2*(x(.41)-x(0));
    const band=(a,b,fill,op)=>g.append("rect").attr("x",x(i-.41)).attr("width",w).attr("y",y(Math.max(a,b))).attr("height",Math.abs(y(a)-y(b))).attr("fill",fill).attr("opacity",op);
    band(denseUp[i],semiUp[i],"url(#upS)",1);
    band(0,denseUp[i],up,.62);
    band(0,denseUp[i],"url(#upD)",1);
    band(denseDn[i],semiDn[i],"url(#dnS)",1);
    band(0,denseDn[i],dn,.55);
    band(0,denseDn[i],"url(#dnD)",1);
    g.selectAll(null).data(flatPairs(volcUp[i])).enter().append("circle")
      .attr("cx",d=>x(i+d[0]/100)).attr("cy",d=>y(d[1]/100)).attr("r",1.1).attr("fill",up);
    g.selectAll(null).data(flatPairs(volcDn[i])).enter().append("circle")
      .attr("cx",d=>x(i+d[0]/100)).attr("cy",d=>y(d[1]/100)).attr("r",1.1).attr("fill",dn);
  });
  // cluster strip
  d3.range(7).forEach(i=>{
    g.append("rect").attr("x",x(i-.5)).attr("width",x(1)-x(0)).attr("y",y(.25)).attr("height",y(-.25)-y(.25)).attr("fill",stripCols[i]);
    g.append("text").attr("x",x(i)).attr("y",y(0)+3.5).attr("text-anchor","middle").style("font-size","10px").text(i);
  });
  const ax=g.append("g").attr("transform","translate(530.7,0)").call(d3.axisLeft(y).tickValues([-4,-2,0,2]).tickSizeOuter(0).tickSize(2.5));
  ax.select(".domain").attr("stroke","#444").attr("stroke-width",1);
  ax.selectAll("text").style("font-family",sans).style("font-size","9.5px").style("fill","#555");
  ax.selectAll("line").attr("stroke","#555");
  // sig legend dots
  g.append("circle").attr("cx",x(4)).attr("cy",y(3.13)).attr("r",5).attr("fill",dn);
  g.append("circle").attr("cx",x(4)).attr("cy",y(2.76)).attr("r",5).attr("fill",up);
  g.append("text").attr("x",x(4.3)).attr("y",y(3.07)).style("font-size","9px").text("sigDown");
  g.append("text").attr("x",x(4.27)).attr("y",y(2.7)).style("font-size","9px").text("sigUp");
  geneLeaders.forEach(l=>{
    g.append("line").attr("x1",x(l[0])).attr("y1",y(l[1])).attr("x2",x(l[2])).attr("y2",y(l[3])).attr("stroke","#222").attr("stroke-width",.7);
  });
  g.selectAll(null).data(geneNames).enter().append("text")
    .attr("x",(d,i)=>x(geneX[i])).attr("y",(d,i)=>y(geneY[i])+3).attr("text-anchor","middle")
    .style("font-size","8.8px").style("fill","#333").text(d=>d);
  g.append("text").attr("transform","translate(509,195) rotate(-90)").attr("text-anchor","middle").style("font-size","11.5px").style("fill","#333").text("Average log2FoldChange");
  g.append("text").attr("x",703).attr("y",387).attr("text-anchor","middle").style("font-size","11.5px").style("fill","#333").text("Clusters");
}

function drawC(){
  const g=svg.append("g");
  const exX=d3.scaleLinear().domain([0,1568]).range([0,940]);
  const exY=d3.scaleLinear().domain([0,1260]).range([420,840]);
  const allCells=tsneLists.flatMap(flatPairs);
  featureTitles.forEach((t,k)=>{
    const col=k%3,row=Math.floor(k/3);
    const x=d3.scaleLinear().domain([232,1205]).range([90+col*286.7,318+col*286.7]);
    const y=d3.scaleLinear().domain([110,1078]).range([461.7+row*218,613.3+row*218]);
    g.selectAll(null).data(allCells).enter().append("circle")
      .attr("cx",d=>x(d[0])).attr("cy",d=>y(d[1])).attr("r",2).attr("fill","#d4d4d4");
    g.selectAll(null).data(flatPairs(exprLists[k])).enter().append("circle")
      .attr("cx",d=>exX(d[0])).attr("cy",d=>exY(d[1])).attr("r",1.9).attr("fill",k==0?"#7050dc":"#5434d8").attr("fill-opacity",.9);
    g.append("text").attr("x",202+col*287).attr("y",444+row*218.4).attr("text-anchor","middle")
      .style("font-weight","bold").style("font-size","15.5px").text(t);
  });
}

function drawD(){
  const g=svg.append("g");
  g.append("rect").attr("x",992.7).attr("y",34).attr("width",406).attr("height",813.5).attr("rx",55).attr("ry",55)
    .attr("fill","none").attr("stroke","#f00").attr("stroke-width",10).attr("stroke-dasharray","9.4 9.3");
  const pie=d3.pie().sort(null);
  const arc=d3.arc().innerRadius(92).outerRadius(170);
  const color=d3.scaleOrdinal(clusterNames,clusterCols);
  [[primaryPct,236,"Primary",244],[metastasisPct,642,"Metastasis",649]].forEach(p=>{
    const gp=g.append("g").attr("transform",`translate(1203.3,${p[1]})`);
    const arcs=pie(p[0]);
    gp.selectAll("path").data(arcs).enter().append("path").attr("d",arc)
      .attr("fill",(d,i)=>color(donutOrder[i])).attr("stroke","#fff").attr("stroke-width",1);
    const t=gp.selectAll("text").data(arcs).enter().append("text").attr("text-anchor","middle")
      .attr("transform",d=>`translate(${arc.centroid(d)})`).style("font-family",sans).style("font-size","11.5px").style("fill","#222");
    t.append("tspan").attr("x",0).attr("dy",-3).text((d,i)=>donutOrder[i]);
    t.append("tspan").attr("x",0).attr("dy",15).text(d=>d.data+"%");
    g.append("text").attr("x",1203.3).attr("y",p[3]).attr("text-anchor","middle").style("font-weight","bold").style("font-size","37px").style("fill","#000").text(p[2]);
  });
}

function drawE(){
  const g=svg.append("g");
  const x=d3.scaleBand().domain(clusterNames).range([66.3,376.5]);
  const y=d3.scaleBand().domain(hallmarks).range([874.7,1446]);
  const color=v=>d3.interpolatePiYG((2-v)/4);
  hallmarks.forEach((h,r)=>{
    g.selectAll(null).data(hallmarkVals[r]).enter().append("rect")
      .attr("x",(d,c)=>x(clusterNames[c])).attr("y",y(h)).attr("width",x.bandwidth()).attr("height",y.bandwidth())
      .attr("fill",d=>color(d)).attr("stroke","#fff").attr("stroke-width",.8);
  });
  g.selectAll(null).data(hallmarks).enter().append("text").attr("x",380).attr("y",d=>y(d)+y.bandwidth()/2+3.6)
    .style("font-size","10.3px").style("fill","#333").text(d=>d);
  clusterNames.forEach(c=>{
    g.append("text").attr("transform",`translate(${x(c)+x.bandwidth()/2},1459) rotate(-45)`).attr("text-anchor","middle")
      .style("font-size","12px").style("fill","#333").text(c);
  });
  g.append("text").attr("x",279).attr("y",1493).attr("text-anchor","middle").style("font-weight","bold").style("font-size","17px").text("Clusters");
  // colour bar
  const lg=defs.append("linearGradient").attr("id","piyg").attr("x1",0).attr("x2",0).attr("y1",0).attr("y2",1);
  d3.range(0,1.01,.1).forEach(t=>lg.append("stop").attr("offset",t).attr("stop-color",d3.interpolatePiYG(t)));
  g.append("rect").attr("x",599).attr("y",874.7).attr("width",13.5).attr("height",189.3).attr("fill","url(#piyg)");
  const cy=d3.scaleLinear().domain([2,-2]).range([875.5,1064]);
  g.selectAll(null).data([2,1,0,-1,-2]).enter().append("text").attr("x",616).attr("y",d=>cy(d)+4)
    .style("font-size","12px").style("fill","#333").text(d=>d);
}

function drawG(){
  const g=svg.append("g");
  const cols=["C0","C4","C6"];
  const x=d3.scaleBand().domain(cols).range([759.4,1088]).paddingInner(.052).paddingOuter(0);
  const color=d3.scaleLinear().domain(d3.range(7).map(i=>-1.155+i*.385)).range(rdylbu);
  const rowH=13.93,gap=5.5;
  let y0=874.7,k=0;
  const matrix=[immuneC0,immuneC4,immuneC6];
  typeGenes.forEach((genes,t)=>{
    const y=d3.scaleBand().domain(genes).range([y0,y0+genes.length*rowH]);
    g.append("rect").attr("x",741.5).attr("y",y0).attr("width",13.5).attr("height",genes.length*rowH).attr("fill",typeCols[t]);
    genes.forEach(gene=>{
      cols.forEach((c,ci)=>{
        g.append("rect").attr("x",x(c)).attr("y",y(gene)).attr("width",x.bandwidth()).attr("height",y.bandwidth()+.4).attr("fill",color(matrix[ci][k]));
      });
      g.append("text").attr("x",1097.8).attr("y",y(gene)+rowH/2+4.3).style("font-family",'"DejaVu Serif",serif').style("font-size","12.3px").style("fill","#333").text(gene);
      k++;
    });
    y0+=genes.length*rowH+gap;
  });
  cols.forEach(c=>{
    g.append("text").attr("transform",`translate(${x(c)+x.bandwidth()/2},1458) rotate(50)`).attr("text-anchor","middle")
      .style("font-size","12.5px").style("font-style","italic").style("fill","#333").text(c);
  });
  const lg=defs.append("linearGradient").attr("id","rdyl").attr("x1",0).attr("x2",0).attr("y1",1).attr("y2",0);
  rdylbu.forEach((c,i)=>lg.append("stop").attr("offset",i/6).attr("stop-color",c));
  g.append("rect").attr("x",1178).attr("y",874.7).attr("width",13.5).attr("height",189.3).attr("fill","url(#rdyl)");
  const cy=d3.scaleLinear().domain([-1,1]).range([1051.8,887.8]);
  g.selectAll(null).data([1,.5,0,-.5,-1]).enter().append("text").attr("x",1197).attr("y",d=>cy(d)+4.5)
    .style("font-family",'"DejaVu Serif",serif').style("font-size","11.5px").style("fill","#333").text(d=>d);
  g.append("text").attr("x",1225.4).attr("y",884).style("font-family",'"DejaVu Serif",serif').style("font-weight","bold").style("font-size","12px").text("type");
  geneTypes.forEach((t,i)=>{
    g.append("rect").attr("x",1225.4).attr("y",888.6+i*17.55).attr("width",19.2).attr("height",17.55).attr("fill",typeCols[i]);
    g.append("text").attr("x",1248.6).attr("y",888.6+i*17.55+13).style("font-family",'"DejaVu Serif",serif').style("font-size","12.8px").style("fill","#333").text(t);
  });
}

function drawF(){
  const g=svg.append("g");
  const x=d3.scaleLinear().domain([-6,6]).range([68.1,494.8]);
  const y=d3.scaleLinear().domain([-2,3]).range([1953.4,1531.7]);
  const xLine=d3.scaleLinear().domain([x.invert(52),x.invert(507)]).range([52,507]);
  const yLine=d3.scaleLinear().domain([y.invert(1999.4),y.invert(1504)]).range([1999.4,1504]);
  const ax=g.append("g").attr("transform","translate(0,1999.4)").call(d3.axisBottom(xLine).tickValues([-6,-3,0,3,6]).tickSizeOuter(0).tickSize(3));
  const ay=g.append("g").attr("transform","translate(52,0)").call(d3.axisLeft(yLine).tickValues([-2,-1,0,1,2,3]).tickSizeOuter(0).tickSize(3));
  [ax,ay].forEach(a=>{
    a.select(".domain").attr("stroke","#888").attr("stroke-width",1.2);
    a.selectAll("line").attr("stroke","#666");
    a.selectAll("text").style("font-family",'"Liberation Serif",serif').style("font-size","11px").style("fill","#444");
  });
  [[trajC0,0],[trajC6,2],[trajC4,1]].forEach(s=>{
    g.selectAll(null).data(flatPairs(s[0])).enter().append("circle")
      .attr("cx",d=>x(d[0])).attr("cy",d=>y(d[1])).attr("r",2).attr("fill",trajCols[s[1]]);
  });
  const line=d3.line().x(d=>x(d[0])).y(d=>y(d[1])).curve(d3.curveCatmullRom);
  [backbone,branch1,branch2,branch3].forEach(b=>{
    g.append("path").attr("d",line(flatPairs(b))).attr("fill","none").attr("stroke","#000").attr("stroke-width",1.6);
  });
  flatPairs(branchNodes).forEach((n,i)=>{
    g.append("circle").attr("cx",x(n[0])).attr("cy",y(n[1])).attr("r",6.6).attr("fill","#000");
    g.append("text").attr("x",x(n[0])).attr("y",y(n[1])+4).attr("text-anchor","middle").style("font-family",sans).style("font-size","11px").style("fill","#fff").text(i+1);
  });
  trajLegend.forEach((t,i)=>{
    g.append("circle").attr("cx",537).attr("cy",1725.3+i*29.6).attr("r",4.6).attr("fill",trajCols[i]);
    g.append("text").attr("x",553.8).attr("y",1725.3+i*29.6+3.5).style("font-weight","bold").style("font-size","9.5px").text(t);
  });
  g.append("text").attr("x",279).attr("y",2027).attr("text-anchor","middle").style("font-weight","bold").style("font-size","13.5px").text("Component 1");
  g.append("text").attr("transform","translate(30,1751) rotate(-90)").attr("text-anchor","middle").style("font-weight","bold").style("font-size","13.5px").text("Component 2");
}

function drawScore(o){
  const g=svg.append("g");
  const y=d3.scaleLinear().domain(o.yDomain).range(o.yRange);
  const x=d3.scalePoint().domain(scoreGroups).range(o.xCats);
  const w=d3.scaleLinear().domain([0,1]).range([0,54]);
  const [L,R]=o.xBox,[T,B]=o.yBox;
  const labelGap=[22.3,22.3,18];
  g.append("rect").attr("x",L).attr("y",T).attr("width",R-L).attr("height",B-T).attr("fill","#fff");
  // grid
  o.minor.forEach(v=>g.append("line").attr("x1",L).attr("x2",R).attr("y1",y(v)).attr("y2",y(v)).attr("stroke","#f1f1f1").attr("stroke-width",.6));
  o.ticks.forEach(v=>g.append("line").attr("x1",L).attr("x2",R).attr("y1",y(v)).attr("y2",y(v)).attr("stroke","#e8e8e8").attr("stroke-width",1));
  scoreGroups.forEach(c=>g.append("line").attr("x1",x(c)).attr("x2",x(c)).attr("y1",T).attr("y2",B).attr("stroke","#eaeaea"));
  scoreGroups.forEach((c,i)=>{
    const cx=x(c),pts=flatPairs(o.violin[i]);
    const area=d3.area().y(d=>y(d[0])).x0(d=>cx-w(d[1])).x1(d=>cx+w(d[1])).curve(d3.curveCatmullRom);
    g.append("path").attr("d",area(pts)+"Z").attr("fill",scoreCols[i]).attr("fill-opacity",.5).attr("stroke","#4a3a30").attr("stroke-width",.9);
    g.append("line").attr("x1",cx).attr("x2",cx).attr("y1",y(pts[0][0])).attr("y2",y(pts[pts.length-1][0])).attr("stroke","#333").attr("stroke-opacity",.75).attr("stroke-width",.9);
    g.selectAll(null).data(flatPairs(o.jitter[i])).enter().append("circle")
      .attr("cx",d=>cx+w(d[0])).attr("cy",d=>y(d[1])).attr("r",2.4).attr("fill",scoreCols[i]).attr("fill-opacity",.5);
    const b=o.box[i];
    g.append("rect").attr("x",cx-16.5).attr("width",33).attr("y",y(b[2])).attr("height",y(b[0])-y(b[2]))
      .attr("fill",scoreCols[i]).attr("fill-opacity",.78).attr("stroke","#444").attr("stroke-opacity",.8).attr("stroke-width",.8);
    g.append("line").attr("x1",cx-16.5).attr("x2",cx+16.5).attr("y1",y(b[1])).attr("y2",y(b[1])).attr("stroke","#444").attr("stroke-width",1.4);
    const my=y(o.mean[i]),lg=labelGap[i];
    g.append("line").attr("x1",cx).attr("x2",cx+lg).attr("y1",my).attr("y2",my).attr("stroke","#000").attr("stroke-dasharray","2.5 1.5").attr("stroke-width",.8);
    g.append("circle").attr("cx",cx).attr("cy",my).attr("r",4.5).attr("fill","#8B0000");
    g.append("rect").attr("x",cx+lg).attr("y",my-9).attr("width",i==2?44:42).attr("height",18).attr("rx",2).attr("fill","#fff").attr("stroke","#666").attr("stroke-width",.7);
    const lab=g.append("text").attr("x",cx+lg+1.8).attr("y",my+3).style("font-size","7.6px").style("fill","#444");
    lab.append("tspan").text("μ\u0302");
    lab.append("tspan").attr("dy",2).style("font-size","5px").text("mean");
    lab.append("tspan").attr("dy",-2).text(" = "+o.mean[i]);
    g.append("text").attr("x",cx).attr("y",o.labelY).attr("text-anchor","middle").style("font-size","8.5px").style("fill","#444").text(c);
    g.append("text").attr("x",cx).attr("y",o.labelY+10.5).attr("text-anchor","middle").style("font-size","8.5px").style("fill","#444").text(`(n = ${scoreN[i]})`);
  });
  g.append("rect").attr("x",L).attr("y",T).attr("width",R-L).attr("height",B-T).attr("fill","none").attr("stroke","#777").attr("stroke-width",.9);
  g.append("line").attr("x1",R+1).attr("x2",R+1).attr("y1",T).attr("y2",B).attr("stroke","#ccc").attr("stroke-width",2);
  const ax=g.append("g").attr("transform",`translate(${L},0)`).call(d3.axisLeft(y).tickValues(o.ticks).tickSizeOuter(0).tickSize(2).tickFormat(d3.format(".1f")));
  ax.select(".domain").remove();
  ax.selectAll("text").style("font-family",'"Liberation Serif",serif').style("font-size","8.5px").style("fill","#444");
  ax.selectAll("line").attr("stroke","#666");
  g.append("text").attr("x",o.titleX).attr("y",o.titleY).attr("text-anchor","middle").style("font-weight","bold").style("font-size","13.5px").text(o.title);
  g.append("text").attr("x",o.krX).attr("y",o.krY).attr("text-anchor","middle").style("font-size","10.2px").style("fill","#333").text("Kruskal-Wallis, p < 2.2e-16");
}

drawA();drawB();drawC();drawD();drawE();drawG();drawF();
drawScore({title:"M1 score",yDomain:[-.5,1],yRange:[1947,1600.9],xCats:[718.3,933.7],xBox:[654,998.3],yBox:[1521.4,1980],
  ticks:[-.5,0,.5,1],minor:[-.25,.25,.75,1.25],violin:m1Violin,box:m1Box,mean:m1Mean,jitter:m1Jitter,labelY:1993,titleX:826,titleY:1511,krX:815.7,krY:1541});
drawScore({title:"M2 score",yDomain:[-.2,.6],yRange:[1938.1,1536.3],xCats:[1143.3,1358.3],xBox:[1079,1422.7],yBox:[1530.6,1989],
  ticks:[-.2,0,.2,.4,.6],minor:[-.1,.1,.3,.5],violin:m2Violin,box:m2Box,mean:m2Mean,jitter:m2Jitter,labelY:2002.5,titleX:1250.7,titleY:1520,krX:1240.7,krY:1550});
</script>
</body>
</html>
